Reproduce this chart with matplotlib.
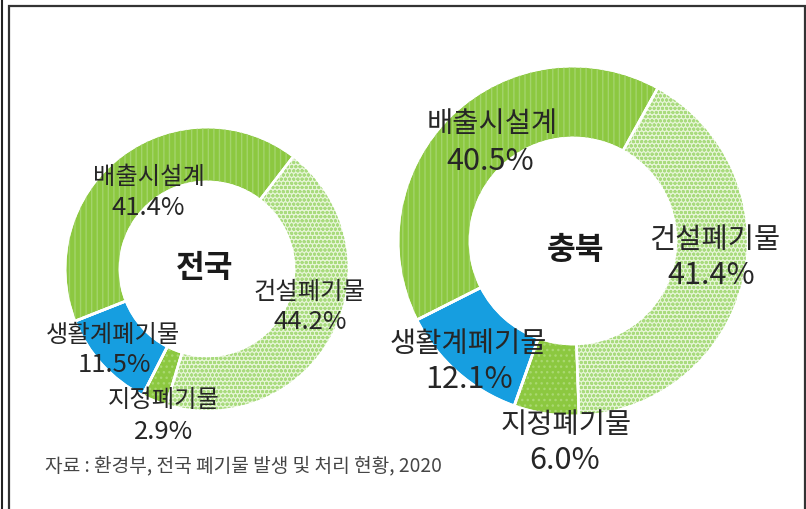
import matplotlib
matplotlib.use('Agg')
import matplotlib.pyplot as plt
from matplotlib.patches import Rectangle

plt.rcParams['font.family'] = ['Noto Sans CJK KR', 'DejaVu Sans']

categories = ['건설폐기물', '지정폐기물', '생활계폐기물', '배출시설계']
national = [44.2, 2.9, 11.5, 41.4]
chungbuk = [41.4, 6.0, 12.1, 40.5]
titles = ['전국', '충북']
source = '자료 : 환경부, 전국 폐기물 발생 및 처리 현황, 2020'

colors = ['#e6f5d6', '#8cc840', '#169ee0', '#8cc840']
hatches = ['oooo', '...', '', '|||']
hatch_colors = ['#a9db7e', '#a9d870', '#169ee0', '#a3d46c']

W, H = 806, 510
fig = plt.figure(figsize=(W / 100, H / 100), dpi=100)
ax = fig.add_axes([0, 0, 1, 1])


def donut(vals, cx, cy, r, width, start):
    c = (cx, H - cy)
    ax.pie(vals, colors=colors, startangle=start, counterclock=False,
           center=c, radius=r,
           wedgeprops=dict(width=width, edgecolor='white', linewidth=2))
    wedges, _ = ax.pie(vals, colors=['none'] * 4, startangle=start,
                       counterclock=False, center=c, radius=r,
                       wedgeprops=dict(width=width, linewidth=0))
    for w, h, hc in zip(wedges, hatches, hatch_colors):
        w.set_fill(False)
        w.set_hatch(h)
        w.set_edgecolor(hc)
        w.set_linewidth(0)
    # white separators on top
    ax.pie(vals, colors=['none'] * 4, startangle=start, counterclock=False,
           center=c, radius=r,
           wedgeprops=dict(width=width, edgecolor='white', linewidth=1.8,
                           fill=False))


donut(national, 207, 270, 142, 55, 52.5)
donut(chungbuk, 573, 242, 175, 72, 61)

# labels (pixel positions, y from top)
left_pos = [(309, 292, 310, 322), (164, 400, 164, 432),
            (113, 335, 114, 365), (149, 177, 148, 208)]
right_pos = [(715, 240, 711, 275), (566, 425, 565, 461),
             (468, 344, 469, 379), (492, 124, 490, 162)]

for vals, pos, fs, fsn in [(national, left_pos, 17.5, 18.5),
                            (chungbuk, right_pos, 20.5, 22)]:
    for cat, v, (lx, ly, nx, ny) in zip(categories, vals, pos):
        ax.text(lx, H - ly, cat, ha='center', va='center', fontsize=fs,
                color='#262626', fontweight='medium')
        ax.text(nx, H - ny, f'{v:.1f}%', ha='center', va='center',
                fontsize=fsn, color='#262626', fontweight='medium')

ax.text(205, H - 268, titles[0], ha='center', va='center', fontsize=22.5,
        color='#1a1a1a', fontweight='bold')
ax.text(575, H - 250, titles[1], ha='center', va='center', fontsize=22.5,
        color='#1a1a1a', fontweight='bold')

ax.text(45, H - 466, source, ha='left', va='center', fontsize=13.8,
        color='#454545', fontweight='medium')

# frame
ax.add_patch(Rectangle((9, -20), 796, H - 7 + 20, fill=False,
                       edgecolor='#333333', linewidth=1.6))
ax.plot([2, 2], [0, H], color='#222222', linewidth=1.5)

ax.set_xlim(0, W)
ax.set_ylim(0, H)
ax.set_aspect('auto')
ax.axis('off')

fig.savefig('out.png', dpi=100, facecolor='white')
